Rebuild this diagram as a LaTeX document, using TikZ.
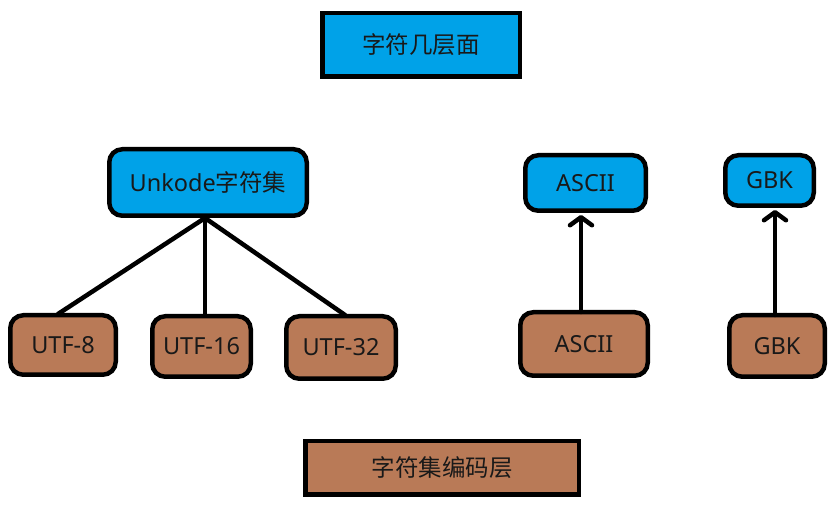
\documentclass[tikz,border=0pt]{standalone}
\usepackage{fontspec}
\setmainfont{Noto Sans}
\newfontfamily\cjk{Noto Sans CJK SC}
\usetikzlibrary{arrows.meta}
\definecolor{boxblue}{RGB}{0,162,232}
\definecolor{boxbrown}{RGB}{185,122,87}
\tikzset{
  base/.style={draw=black, line width=4.5pt, inner sep=0pt, font=\fontsize{23.5}{26}\selectfont, text=black!90},
  layerblue/.style={base, fill=boxblue},
  layerbrown/.style={base, fill=boxbrown},
  roundblue/.style={base, fill=boxblue, rounded corners=13pt},
  roundbrown/.style={base, fill=boxbrown, rounded corners=13pt},
  link/.style={line width=4.5pt, line cap=round},
  uparrow/.style={line width=4.5pt, line cap=round, -{Straight Barb[length=8pt,width=22pt,line width=4.5pt,round]}}
}
\begin{document}
\begin{tikzpicture}[x=1pt,y=-1pt]
\useasboundingbox (0,0) rectangle (839,510);
\node[layerblue, minimum width=197.5pt, minimum height=63.5pt] (top) at (421,45) {\cjk 字符几层面};
\node[layerbrown, minimum width=273.5pt, minimum height=53.5pt] (bottom) at (442,468) {\cjk 字符集编码层};
\node[roundblue, minimum width=197.5pt, minimum height=66.5pt] (unk) at (208,182.5) {Unkode{\cjk 字符集}};
\node[roundbrown, minimum width=105.5pt, minimum height=59.5pt] (utf8) at (63,345) {UTF-8};
\node[roundbrown, minimum width=98.5pt, minimum height=60.5pt] (utf16) at (201.5,346.5) {UTF-16};
\node[roundbrown, minimum width=109.5pt, minimum height=62.5pt] (utf32) at (341,347.5) {UTF-32};
\node[roundblue, minimum width=120.5pt, minimum height=55.5pt] (asciiT) at (585.5,183) {ASCII};
\node[roundblue, minimum width=88.5pt, minimum height=50.5pt] (gbkT) at (769.5,180.5) {GBK};
\node[roundbrown, minimum width=127.5pt, minimum height=63.5pt] (asciiB) at (584,344) {ASCII};
\node[roundbrown, minimum width=95.5pt, minimum height=61.5pt] (gbkB) at (777,346) {GBK};
\coordinate (apex) at ([xshift=-3pt]unk.south);
\draw[link] (apex) -- ([xshift=-5pt,yshift=-1pt]utf8.north);
\draw[link] (apex) -- ([xshift=3.5pt,yshift=-1pt]utf16.north);
\draw[link] (apex) -- ([xshift=4pt,yshift=-1pt]utf32.north);
\draw[uparrow] ([xshift=-3pt,yshift=-2pt]asciiB.north) -- ([xshift=-4.5pt,yshift=-2pt]asciiT.south);
\draw[uparrow] ([xshift=-2pt,yshift=-2pt]gbkB.north) -- ([xshift=5.5pt,yshift=-2pt]gbkT.south);
\end{tikzpicture}
\end{document}
